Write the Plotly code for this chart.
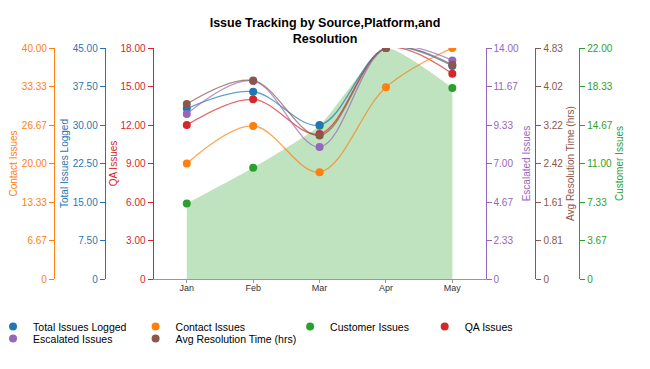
import plotly.graph_objects as go

months = ["Jan", "Feb", "Mar", "Apr", "May"]
total_issues = [33.2, 36.5, 30, 45, 41.5]
contact_issues = [20, 26.5, 18.5, 33.2, 40]
customer_issues = [7.2, 10.6, 14.6, 22, 18.2]
qa_issues = [12, 14, 11.3, 18, 16]
escalated_issues = [10, 12, 8, 14, 13.25]
avg_resolution = [3.66, 4.15, 3.0, 4.83, 4.48]

W, H = 650, 369
OFF = 8   # page body offset
ML = 10   # left margin (room for legend)
PW = W - ML
FONT = "Liberation Sans, Arial, sans-serif"

C_BLUE = "#1f77b4"
C_ORANGE = "#ff7f0e"
C_GREEN = "#2ca02c"
C_RED = "#d62728"
C_PURPLE = "#9467bd"
C_BROWN = "#8c564b"


def px(x):
    return (x - OFF - ML) / PW


def rgba(hexc, a):
    h = hexc.lstrip("#")
    r, g, b = int(h[0:2], 16), int(h[2:4], 16), int(h[4:6], 16)
    return f"rgba({r},{g},{b},{a})"


def tick_info(vals):
    m = max(vals)
    tv = [m * i / 6 for i in range(7)]
    tt = ["0" if i == 0 else f"{v:.2f}" for i, v in enumerate(tv)]
    return m, tv, tt


def yax(vals, color, title, side, anchor, position=None, overlay=True):
    m, tv, tt = tick_info(vals)
    d = dict(
        range=[0, m], tickvals=tv, ticktext=tt, side=side, anchor=anchor,
        showline=True, linecolor=color, linewidth=1, ticks="outside", ticklen=5,
        tickcolor=color, showgrid=False, zeroline=False,
        tickfont=dict(size=10, color=color, family=FONT),
        title=dict(text=title, font=dict(size=10, color=color, family=FONT),
                   standoff=1 if side == "left" else 4),
        fixedrange=True,
    )
    if position is not None:
        d["position"] = position
    if overlay:
        d["overlaying"] = "y"
    return d


def hidden(vals):
    return dict(range=[0, max(vals)], overlaying="y", visible=False, fixedrange=True)


fig = go.Figure()

# Customer area (base axis, drawn first)
fig.add_trace(go.Scatter(
    x=months, y=customer_issues, name="Customer Issues", yaxis="y",
    mode="lines", fill="tozeroy", fillcolor=rgba(C_GREEN, 0.3),
    line=dict(color=rgba(C_GREEN, 0), width=0, shape="spline", smoothing=0.5),
    showlegend=False, legendgroup="customer", hoverinfo="skip",
))

series = [
    # name, values, color, line axis, marker axis, legend
    ("Total Issues Logged", total_issues, C_BLUE, "y3", "y9", "legend"),
    ("Contact Issues", contact_issues, C_ORANGE, "y4", "y10", "legend2"),
    ("QA Issues", qa_issues, C_RED, "y2", "y8", "legend4"),
    ("Escalated Issues", escalated_issues, C_PURPLE, "y5", "y11", "legend5"),
    ("Avg Resolution Time (hrs)", avg_resolution, C_BROWN, "y6", "y12", "legend6"),
]
for name, vals, col, ax, _, lg in series:
    fig.add_trace(go.Scatter(
        x=months, y=vals, name=name, yaxis=ax, mode="lines",
        line=dict(color=rgba(col, 0.7), width=1.3, shape="spline", smoothing=1),
        showlegend=False, legendgroup=name, hoverinfo="skip",
    ))

# markers on top layers
fig.add_trace(go.Scatter(
    x=months, y=customer_issues, name="Customer Issues", yaxis="y7",
    mode="markers", marker=dict(color=C_GREEN, size=8),
    legend="legend3", legendgroup="customer",
))
for name, vals, col, _, max_, lg in series:
    fig.add_trace(go.Scatter(
        x=months, y=vals, name=name, yaxis=max_, mode="markers",
        marker=dict(color=col, size=8),
        legend=lg, legendgroup=name,
    ))

ROW1 = -(326.5 - 279) / 231
ROW2 = -(338.5 - 279) / 231


def leg(dot_x, row):
    return dict(
        x=px(dot_x - 8), y=row, xanchor="left", yanchor="middle",
        orientation="h", itemwidth=30, indentation=-15,
        font=dict(size=10.5, color="black", family=FONT), bgcolor="rgba(0,0,0,0)",
    )


fig.update_layout(
    width=W, height=H,
    margin=dict(l=ML, r=0, t=48 - OFF, b=H - 279 + OFF),
    paper_bgcolor="white", plot_bgcolor="white",
    font=dict(family=FONT),
    title=dict(
        text="<b>Issue Tracking by Source,Platform,and<br>Resolution</b>",
        x=(325 - OFF) / W, xref="container", xanchor="center",
        y=1 - 19 / H, yref="container", yanchor="top",
        font=dict(size=12.5, color="black", family=FONT),
    ),
    xaxis=dict(
        domain=[px(152), px(485)], range=[-0.5, 4.5], showline=True, linecolor="#999",
        linewidth=1, ticks="outside", ticklen=3, tickcolor="#999",
        showgrid=False, zeroline=False, ticklabelstandoff=-3,
        tickfont=dict(size=9, color="#333", family=FONT), fixedrange=True,
    ),
    yaxis=yax(customer_issues, C_GREEN, "Customer Issues", "right", "free", px(579), overlay=False),
    yaxis2=yax(qa_issues, C_RED, "QA Issues", "left", "x"),
    yaxis3=yax(total_issues, C_BLUE, "Total Issues Logged", "left", "free", px(103)),
    yaxis4=yax(contact_issues, C_ORANGE, "Contact Issues", "left", "free", px(52)),
    yaxis5=yax(escalated_issues, C_PURPLE, "Escalated Issues", "right", "x"),
    yaxis6=yax(avg_resolution, C_BROWN, "Avg Resolution Time (hrs)", "right", "free", px(535)),
    yaxis7=hidden(customer_issues),
    yaxis8=hidden(qa_issues),
    yaxis9=hidden(total_issues),
    yaxis10=hidden(contact_issues),
    yaxis11=hidden(escalated_issues),
    yaxis12=hidden(avg_resolution),
    legend=leg(14, ROW1),
    legend2=leg(157, ROW1),
    legend3=leg(312, ROW1),
    legend4=leg(447, ROW1),
    legend5=leg(14, ROW2),
    legend6=leg(157, ROW2),
    showlegend=True,
)

fig.write_html("out.html")
